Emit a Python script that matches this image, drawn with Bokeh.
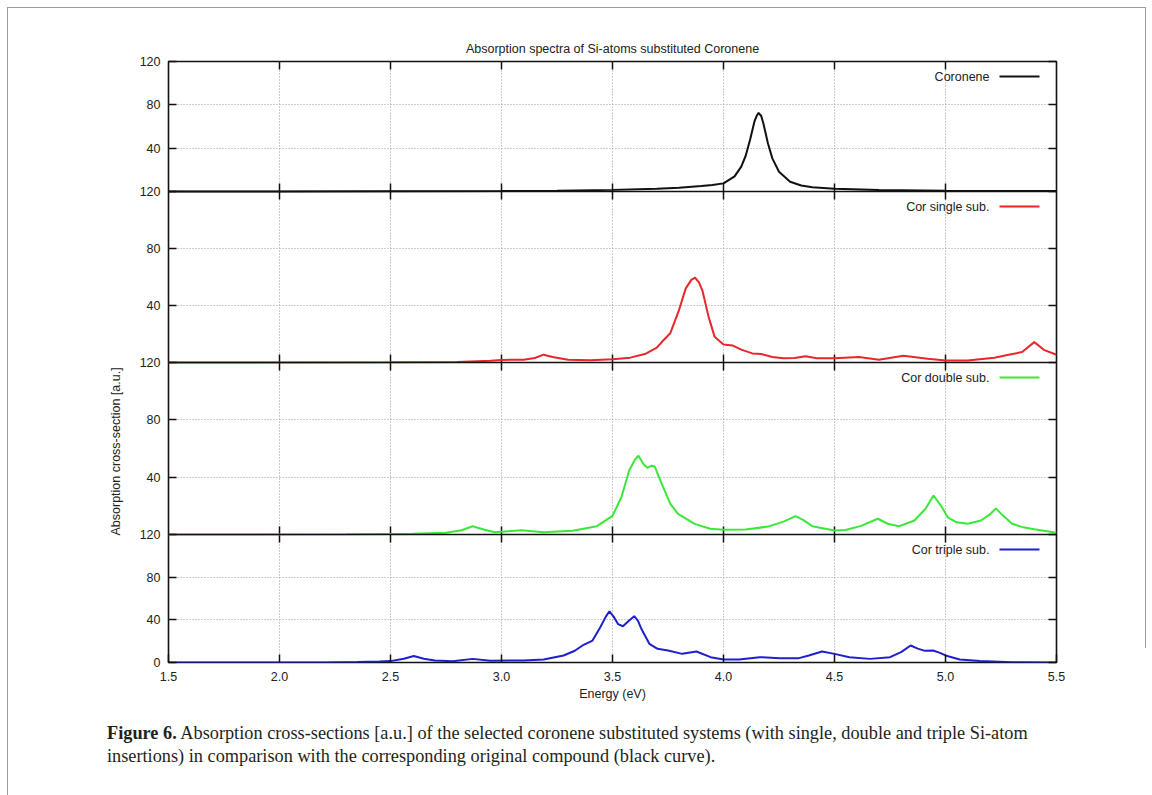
from bokeh.plotting import figure
from bokeh.layouts import column
from bokeh.models import (Range1d, LinearAxis, FixedTicker, Span, Label, Arrow, Title, Div,
                          PrintfTickFormatter, InlineStyleSheet)
from bokeh.embed import file_html
from bokeh.resources import INLINE

# ---------------- data ----------------
coronene_E = [1.5, 2.0, 2.5, 3.0, 3.25, 3.5, 3.7, 3.8, 3.9, 3.95, 4.0, 4.05, 4.08, 4.1, 4.12,
              4.14, 4.15, 4.158, 4.17, 4.18, 4.2, 4.22, 4.25, 4.3, 4.35, 4.4, 4.5, 4.7, 5.0, 5.5]
coronene_I = [0.0, 0.1, 0.2, 0.5, 0.8, 1.5, 2.5, 3.5, 5.0, 6.0, 7.5, 14.0, 23.0, 33.0, 48.0,
              65.0, 70.0, 72.6, 69.7, 62.6, 44.5, 30.6, 18.2, 9.0, 5.5, 4.0, 2.5, 1.4, 0.8, 0.4]

single_E = [1.5, 2.5, 2.8, 2.95, 3.0, 3.1, 3.15, 3.19, 3.23, 3.3, 3.4, 3.5, 3.58, 3.65, 3.7,
            3.72, 3.76, 3.8, 3.83, 3.855, 3.872, 3.89, 3.905, 3.933, 3.96, 4.0, 4.04, 4.08,
            4.13, 4.17, 4.22, 4.27, 4.32, 4.37, 4.42, 4.5, 4.61, 4.7, 4.81, 4.92, 5.0, 5.1,
            5.22, 5.29, 5.345, 5.4, 5.443, 5.5]
single_I = [0.0, 0.1, 0.4, 1.2, 1.8, 2.0, 3.2, 5.5, 3.8, 1.9, 1.5, 2.2, 3.4, 6.2, 10.5,
            14.0, 20.5, 37.0, 52.0, 58.0, 59.5, 56.0, 50.5, 32.0, 18.0, 12.6, 12.0, 9.0,
            6.4, 6.0, 3.8, 3.0, 3.2, 4.4, 3.0, 3.0, 3.8, 2.0, 4.8, 2.6, 1.4, 1.4,
            3.3, 5.6, 7.3, 14.3, 8.9, 5.4]

double_E = [1.5, 2.3, 2.6, 2.75, 2.82, 2.87, 2.92, 2.97, 3.03, 3.09, 3.19, 3.32, 3.43, 3.5,
            3.54, 3.575, 3.6, 3.617, 3.64, 3.657, 3.675, 3.69, 3.72, 3.76, 3.795, 3.87, 3.94,
            4.0, 4.1, 4.2, 4.27, 4.325, 4.36, 4.4, 4.5, 4.55, 4.62, 4.695, 4.74, 4.79, 4.86,
            4.91, 4.946, 4.98, 5.01, 5.05, 5.1, 5.16, 5.2, 5.227, 5.26, 5.3, 5.35, 5.4, 5.5]
double_I = [0.0, 0.1, 0.5, 1.2, 3.0, 5.8, 3.5, 1.6, 2.3, 3.0, 1.6, 2.6, 5.8, 13.0,
            26.0, 44.7, 52.0, 55.0, 49.0, 46.5, 48.0, 47.5, 36.0, 21.5, 14.4, 7.4, 4.0,
            3.3, 3.5, 5.5, 9.0, 12.8, 10.0, 5.8, 2.8, 3.2, 6.0, 11.0, 7.5, 5.7, 9.8,
            18.0, 27.2, 20.0, 12.0, 8.5, 7.5, 9.8, 14.0, 18.2, 13.0, 7.5, 5.0, 3.7, 1.2]

triple_E = [1.5, 2.2, 2.35, 2.45, 2.5, 2.56, 2.605, 2.65, 2.7, 2.78, 2.87, 2.95, 3.1, 3.19,
            3.28, 3.33, 3.37, 3.41, 3.445, 3.47, 3.486, 3.505, 3.525, 3.547, 3.575, 3.598,
            3.615, 3.63, 3.666, 3.703, 3.75, 3.814, 3.878, 3.942, 4.0, 4.07, 4.163, 4.255,
            4.34, 4.384, 4.444, 4.5, 4.567, 4.66, 4.75, 4.8, 4.843, 4.875, 4.908, 4.944,
            4.975, 5.0, 5.064, 5.156, 5.3, 5.5]
triple_I = [0.0, 0.0, 0.4, 0.9, 1.3, 3.5, 6.1, 3.5, 1.8, 1.2, 3.4, 1.6, 1.9, 2.8,
            6.6, 11.0, 16.6, 20.6, 33.0, 43.0, 48.0, 43.0, 36.0, 34.0, 39.4, 43.4,
            39.0, 31.6, 17.5, 12.8, 11.2, 8.1, 10.3, 5.0, 2.8, 2.8, 5.0, 4.1,
            4.1, 6.6, 10.3, 8.1, 5.0, 3.4, 5.0, 9.7, 15.9, 13.0, 10.9, 11.2,
            9.0, 6.6, 2.8, 1.3, 0.3, 0.0]

series_names = ["Coronene", "Cor single sub.", "Cor double sub.", "Cor triple sub."]
series_colors = ["#111111", "#e8262b", "#3ae83a", "#1f1fd0"]
series_E = [coronene_E, single_E, double_E, triple_E]
series_I = [coronene_I, single_I, double_I, triple_I]

x_ticks = [1.5, 2.0, 2.5, 3.0, 3.5, 4.0, 4.5, 5.0, 5.5]
y_ticks = [0, 40, 80, 120]
y_tick_labels = ["0", "40", "80", "120"]

title_text = "Absorption spectra of Si-atoms substituted Coronene"
x_label = "Energy (eV)"
y_label = "Absorption cross-section [a.u.]"
caption_bold = "Figure 6."
caption_line1 = ("Absorption cross-sections [a.u.] of the selected coronene substituted systems "
                 "(with single, double and triple Si-atom")
caption_line2 = "insertions) in comparison with the corresponding original compound (black curve)."

# ---------------- layout geometry ----------------
W, H = 1136, 717
FRAME_L, FRAME_T, FRAME_W, FRAME_H = 168, 61, 888, 601
panel_h = [130, 171, 172, 128]          # panel heights, top to bottom (pixels)
panel_bottom = []
acc = FRAME_H
for h in panel_h:
    acc -= h
    panel_bottom.append(acc)
YMAX = 120.0

SANS = "Liberation Sans"
TXT = "#222222"
FS = "12.5px"

p = figure(width=W, height=H, x_range=Range1d(1.5, 5.5), y_range=Range1d(0, FRAME_H),
           output_backend="svg", toolbar_location=None,
           min_border_left=FRAME_L, min_border_right=W - FRAME_L - FRAME_W,
           min_border_top=FRAME_T, min_border_bottom=H - FRAME_T - FRAME_H)
p.background_fill_color = "white"
p.border_fill_color = "white"
p.outline_line_color = "#111111"
p.outline_line_width = 1.6

# title
p.title.text = title_text
p.title.align = "center"
p.title.text_font = SANS
p.title.text_font_size = FS
p.title.text_font_style = "normal"
p.title.text_color = TXT
p.title.standoff = 11

# per-panel y ranges
for k, (b, h) in enumerate(zip(panel_bottom, panel_h)):
    s = YMAX / h
    p.extra_y_ranges[f"p{k}"] = Range1d(-b * s, (FRAME_H - b) * s)

g_ticks, g_labels = [], {}
for k, (b, h) in enumerate(zip(panel_bottom, panel_h)):
    for v, lab in zip(y_ticks, y_tick_labels):
        if v == 0 and k < len(panel_h) - 1:
            continue
        pos = b + v * h / YMAX
        g_ticks.append(pos)
        g_labels[pos] = lab

def style_axis(ax):
    ax.axis_line_color = None
    ax.major_tick_in = 8
    ax.major_tick_out = 0
    ax.minor_tick_line_color = None
    ax.major_tick_line_color = "#111111"
    ax.major_tick_line_width = 1.5
    ax.major_label_text_font = SANS
    ax.major_label_text_font_size = FS
    ax.major_label_text_color = TXT

xa = p.xaxis[0]
xa.ticker = FixedTicker(ticks=x_ticks)
xa.formatter = PrintfTickFormatter(format="%.1f")
style_axis(xa)
xa.major_label_standoff = 9
xa.axis_label = x_label
xa.axis_label_text_font = SANS
xa.axis_label_text_font_size = FS
xa.axis_label_text_font_style = "normal"
xa.axis_label_text_color = TXT
xa.axis_label_standoff = 3

ya = p.yaxis[0]
ya.ticker = FixedTicker(ticks=g_ticks)
ya.major_label_overrides = g_labels
style_axis(ya)
ya.major_label_standoff = 8

right = LinearAxis(ticker=FixedTicker(ticks=g_ticks),
                   major_label_overrides={t: "" for t in g_ticks})
style_axis(right)
right.major_label_text_font_size = "0px"
p.add_layout(right, "right")

# y label, placed over the third panel like the reference
p.add_layout(Title(text=y_label, align="left", offset=127, standoff=27,
                   text_font=SANS, text_font_size=FS, text_font_style="normal",
                   text_color=TXT), "left")

# grids
p.xgrid.ticker = FixedTicker(ticks=x_ticks[1:-1])
p.ygrid.ticker = FixedTicker(ticks=[t for t in g_ticks if t > 0])
for g in (p.xgrid[0], p.ygrid[0]):
    g.grid_line_color = "#9a9a9a"
    g.grid_line_dash = "1 2"
    g.grid_line_width = 1

inner = x_ticks[1:-1]
p.segment(x0=inner, x1=inner, y0=[FRAME_H - 8] * len(inner), y1=[FRAME_H] * len(inner),
          line_color="#111111", line_width=1.5)
for b in panel_bottom[:-1]:
    p.add_layout(Span(location=b, dimension="width", line_color="#111111", line_width=1.6))
    p.segment(x0=inner, x1=inner, y0=[b - 8] * len(inner), y1=[b + 8] * len(inner),
              line_color="#111111", line_width=1.5)

# spectra
for k in range(4):
    p.line(series_E[k], series_I[k], y_range_name=f"p{k}",
           line_color=series_colors[k], line_width=2)

# legends (text left of sample line, top-right of every panel)
px2e = 4.0 / FRAME_W
for k, (b, h) in enumerate(zip(panel_bottom, panel_h)):
    ly = b + h - 15
    p.add_layout(Label(x=5.5 - 67 * px2e, y=ly, text=series_names[k], text_align="right",
                       text_baseline="middle", text_font=SANS, text_font_size=FS,
                       text_color=TXT))
    p.add_layout(Arrow(start=None, end=None, x_start=5.5 - 57 * px2e, x_end=5.5 - 17 * px2e,
                       y_start=ly, y_end=ly, line_color=series_colors[k], line_width=2))

cap = Div(width=W, height=62, text=(
    '<div style="padding-left:102px;font-family:\'Liberation Serif\';font-size:18.3px;'
    'line-height:23px;color:#231f20;white-space:nowrap;">'
    f'<b>{caption_bold}</b> {caption_line1}<br>{caption_line2}</div>'))

# light grey page rules around the figure (journal frame)
frame_css = InlineStyleSheet(css="""
:host { position: relative; }
:host::before { content: ""; position: absolute; left: 7px; top: 7px; width: 0px;
  height: 788px; border-left: 1.5px solid #9c9c9c; z-index: 10; pointer-events: none; }
:host::after { content: ""; position: absolute; left: 7px; top: 7px; width: 1139px;
  height: 641px; border-top: 1.5px solid #9c9c9c; border-right: 1.5px solid #9c9c9c;
  box-sizing: border-box; z-index: 10; pointer-events: none; }
""")

layout = column(p, cap, spacing=0, stylesheets=[frame_css])
open("out.html", "w").write(file_html(layout, INLINE))
